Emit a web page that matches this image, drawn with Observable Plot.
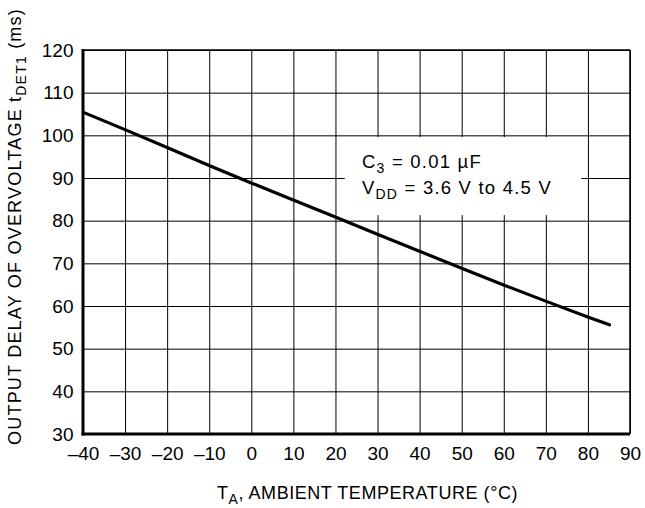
<!DOCTYPE html>
<html>
<head>
<meta charset="utf-8">
<script src="https://cdn.jsdelivr.net/npm/d3@7"></script>
<script src="https://cdn.jsdelivr.net/npm/@observablehq/plot@0.6"></script>
<style>
  body { margin: 0; background: #fff; }
  svg { font-family: "Liberation Sans", Arial, sans-serif; }
</style>
</head>
<body>
<div id="chart"></div>
<script>
// Data
const temperature = [-40, -30, -20, -10, 0, 10, 20, 30, 40, 50, 60, 70, 80, 85];
const delayMs     = [105.5, 101.4, 97.2, 93.0, 88.9, 84.9, 80.9, 76.9, 72.9, 68.9, 65.0, 61.2, 57.5, 55.7];
const xTicks = [-40, -30, -20, -10, 0, 10, 20, 30, 40, 50, 60, 70, 80, 90];
const yTicks = [30, 40, 50, 60, 70, 80, 90, 100, 110, 120];
const noteLines = [["C", "3", " = 0.01 µF"], ["V", "DD", " = 3.6 V to 4.5 V"]];

const data = temperature.map((t, i) => ({t, d: delayMs[i]}));
const fmt = d => d < 0 ? "–" + (-d) : String(d);

const plot = Plot.plot({
  width: 645,
  height: 508,
  marginLeft: 83,
  marginRight: 15,
  marginTop: 50,
  marginBottom: 74,
  style: {fontFamily: "Liberation Sans, Arial, sans-serif", fontSize: "19px", background: "#fff", color: "#000"},
  x: {domain: [-40, 90], ticks: xTicks, tickFormat: fmt, tickSize: 0, tickPadding: 12, label: null},
  y: {domain: [30, 120], ticks: yTicks, tickSize: 0, tickPadding: 10, label: null},
  marks: [
    Plot.ruleX(xTicks, {stroke: "#000", strokeWidth: 1}),
    Plot.ruleY(yTicks, {stroke: "#000", strokeWidth: 1}),
    Plot.line(data, {x: "t", y: "d", stroke: "#000", strokeWidth: 3.2})
  ]
});

const svg = d3.select(plot);
const xs = plot.scale("x"), ys = plot.scale("y");

// white note box over the grid
const x0 = xs.apply(22.2), x1 = xs.apply(78.4);
const yTop = ys.apply(99.6), yBot = ys.apply(81.3);
const lineG = svg.select("g[aria-label='line']").node();
svg.insert("rect", () => lineG)
  .attr("x", x0).attr("y", yTop).attr("width", x1 - x0).attr("height", yBot - yTop)
  .attr("fill", "#fff");

// frame: thick left & bottom, thin top & right
const L = xs.apply(-40), R = xs.apply(90), T = ys.apply(120), B = ys.apply(30);
svg.append("line").attr("x1", L).attr("x2", R).attr("y1", T).attr("y2", T).attr("stroke", "#000").attr("stroke-width", 1.5);
svg.append("line").attr("x1", R).attr("x2", R).attr("y1", T).attr("y2", B).attr("stroke", "#000").attr("stroke-width", 1.5);
svg.append("line").attr("x1", L).attr("x2", L).attr("y1", T - 1).attr("y2", B + 1.5).attr("stroke", "#000").attr("stroke-width", 3);
svg.append("line").attr("x1", L - 1.5).attr("x2", R).attr("y1", B).attr("y2", B).attr("stroke", "#000").attr("stroke-width", 3);

document.getElementById("chart").appendChild(plot);

// fit a text element to a target width by letter-spacing
function fit(sel, target) {
  const n = sel.text().length;
  const w = sel.node().getComputedTextLength();
  sel.style("letter-spacing", Math.max(0, (target - w) / n) + "px");
}

// note text
const noteX = xs.apply(26.3);
const noteWidths = [120, 190];
noteLines.forEach((parts, i) => {
  const t = svg.append("text")
    .attr("x", noteX).attr("y", ys.apply(92.4 - i * 6.1))
    .attr("text-anchor", "start")
    .attr("fill", "#000").style("font-size", "18.5px");
  t.append("tspan").text(parts[0]);
  t.append("tspan").attr("dy", 5).style("font-size", "14px").text(parts[1]);
  t.append("tspan").attr("dy", -5).text(parts[2]);
  fit(t, noteWidths[i]);
});

// x axis title
const xt = svg.append("text")
  .attr("x", 367.5).attr("y", 499).attr("text-anchor", "middle")
  .attr("fill", "#000").style("font-size", "18px");
xt.append("tspan").text("T");
xt.append("tspan").attr("dy", 5).style("font-size", "14px").text("A");
xt.append("tspan").attr("dy", -5).text(", AMBIENT TEMPERATURE (°C)");
fit(xt, 301);

// y axis title
const yt = svg.append("text")
  .attr("transform", `translate(21,226.5) rotate(-90)`).attr("text-anchor", "middle")
  .attr("fill", "#000").style("font-size", "18px");
yt.append("tspan").text("OUTPUT DELAY OF OVERVOLTAGE t");
yt.append("tspan").attr("dy", 5).style("font-size", "14px").text("DET1");
yt.append("tspan").attr("dy", -5).text(" (ms)");
fit(yt, 437);
</script>
</body>
</html>
